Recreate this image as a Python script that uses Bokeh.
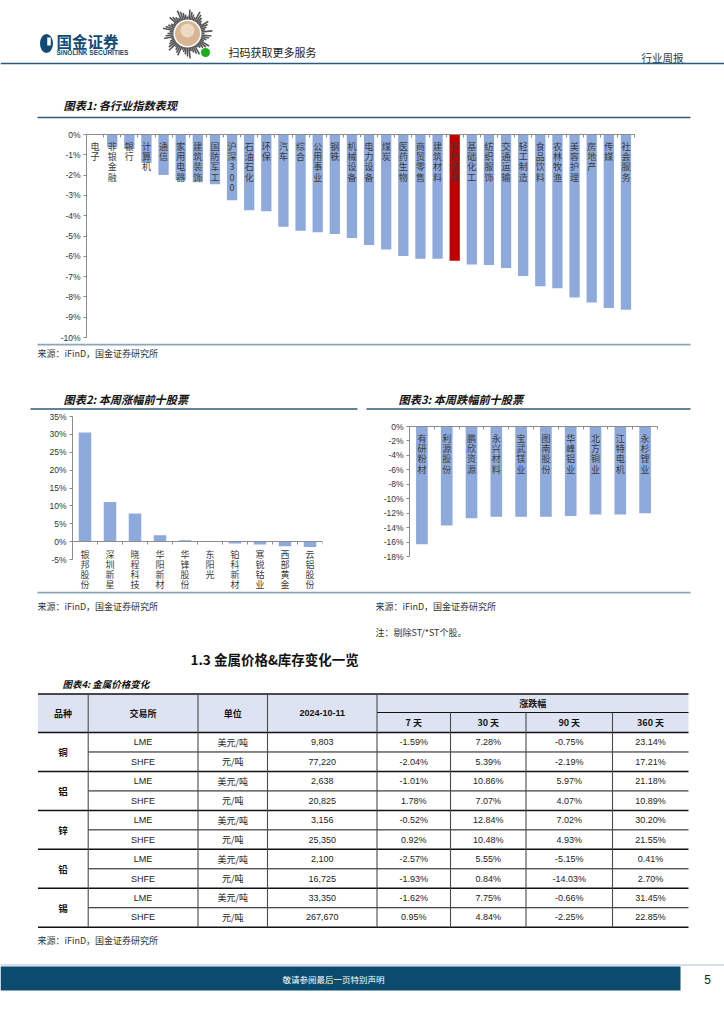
import numpy as np
from bokeh.plotting import figure
from bokeh.models import Range1d, FixedTicker, ColumnDataSource, CustomJSTickFormatter
from bokeh.layouts import column, row
from bokeh.embed import file_html
from bokeh.resources import INLINE
from bokeh.core.properties import value

CJK = "Noto Sans CJK SC"
LAT = "Liberation Sans"

# ---------------- data ----------------
industries = ["电子", "非银金融", "银行", "计算机", "通信", "家用电器", "建筑装饰", "国防军工",
              "沪深300", "石油石化", "环保", "汽车", "综合", "公用事业", "钢铁", "机械设备",
              "电力设备", "煤炭", "医药生物", "商贸零售", "建筑材料", "有色金属", "基础化工",
              "纺织服饰", "交通运输", "轻工制造", "食品饮料", "农林牧渔", "美容护理", "房地产",
              "传媒", "社会服务"]
industry_chg = [-0.03, -0.63, -0.71, -1.40, -1.99, -2.25, -2.35, -2.45,
                -3.24, -3.73, -3.78, -4.54, -4.74, -4.82, -4.90, -5.10,
                -5.44, -5.66, -5.99, -6.12, -6.12, -6.22, -6.40,
                -6.43, -6.58, -6.97, -7.48, -7.57, -8.03, -8.27,
                -8.55, -8.63]
highlight = "有色金属"

gainers = ["银邦股份", "深圳新星", "晓程科技", "华阳新材", "华锋股份", "东阳光",
           "铂科新材", "寒锐钴业", "西部黄金", "云铝股份"]
gainer_chg = [30.5, 11.1, 7.9, 1.8, 0.4, 0.0, -0.5, -0.8, -1.3, -1.5]

losers = ["有研粉材", "利源股份", "鹏欣资源", "永兴材料", "宝武镁业", "图南股份",
          "华峰铝业", "北方铜业", "江特电机", "永杉锂业"]
loser_chg = [-16.3, -13.7, -12.7, -12.5, -12.5, -12.5, -12.4, -12.2, -12.2, -12.0]

metals = ["铜", "铝", "锌", "铅", "锡"]
exchanges = ["LME", "SHFE"] * 5
units = ["美元/吨", "元/吨"] * 5
prices = [9803, 77220, 2638, 20825, 3156, 25350, 2100, 16725, 33350, 267670]
chg_7d = [-1.59, -2.04, -1.01, 1.78, -0.52, 0.92, -2.57, -1.93, -1.62, 0.95]
chg_30d = [7.28, 5.39, 10.86, 7.07, 12.84, 10.48, 5.55, 0.84, 7.75, 4.84]
chg_90d = [-0.75, -2.19, 5.97, 4.07, 7.02, 4.93, -5.15, -14.03, -0.66, -2.25]
chg_360d = [23.14, 17.21, 21.18, 10.89, 30.20, 21.55, 0.41, 2.70, 31.45, 22.85]
table_date = "2024-10-11"
period_labels = ["7 天", "30 天", "90 天", "360 天"]

BAR = "#8EA9DB"
RED = "#C00000"
AXIS = "#8c8c8c"
NAVY = "#0f4c75"
LINE_BLUE = "#2c5a7a"
SEP = "#8aa7bd"
W = 724
TITLE = 11.2
SRC = 9


def base_fig(**kw):
    p = figure(toolbar_location=None, output_backend="svg", **kw)
    p.frame_align = False
    p.title.visible = False
    p.outline_line_color = None
    return p


def decor(y0, y1, x0=0, x1=W):
    p = base_fig(width=x1 - x0, height=y1 - y0, x_range=Range1d(x0, x1),
                 y_range=Range1d(y1, y0), x_axis_type=None, y_axis_type=None, min_border=0)
    return p


def txt(p, x, y, s, size, color="#222222", font=CJK, align="left", style="normal"):
    p.text(x=[x], y=[y], text=[s], text_font=value(font), text_font_size=f"{size}px",
           text_color=color, text_align=align, text_baseline="middle", text_font_style=style)


def style_chart(p, yticks, nx):
    p.xgrid.visible = False
    p.ygrid.visible = False
    ya = p.yaxis[0]
    ya.ticker = FixedTicker(ticks=yticks)
    ya.formatter = CustomJSTickFormatter(code="return tick.toFixed(0) + '%';")
    ya.major_label_text_font = LAT
    ya.major_label_text_font_size = "8.5px"
    ya.major_label_text_color = "#333333"
    ya.major_label_standoff = 3
    ya.axis_line_color = AXIS
    ya.major_tick_line_color = AXIS
    ya.major_tick_out = 3
    ya.major_tick_in = 0
    ya.minor_tick_line_color = None
    xa = p.xaxis[0]
    xa.ticker = FixedTicker(ticks=[i - 0.5 for i in range(nx + 1)])
    xa.major_label_text_font_size = "1px"
    xa.major_label_text_color = None
    xa.major_label_standoff = 0
    xa.axis_line_color = AXIS
    xa.major_tick_line_color = AXIS
    xa.major_tick_in = 3
    xa.major_tick_out = 0
    xa.minor_tick_line_color = None


def vlabels(p, src, offset, lh):
    p.text(x="x", y="y0", text="label", source=src, text_align="center", text_baseline="top",
           y_offset=offset, text_font=value(CJK), text_font_size="9px", text_color="#3a3a3a",
           text_line_height=lh)


# ---------------- header ----------------
pA = decor(0, 125)
pA.ellipse(x=[46], y=[43], width=[13], height=[19], fill_color=NAVY, line_color=None)
pA.rect(x=[48.5], y=[41], width=[3.5], height=[8], fill_color="white", line_color=None)
txt(pA, 56, 40, "国金证券", 15.5, NAVY, style="bold")
txt(pA, 56, 52, "SINOLINK SECURITIES", 6.5, NAVY, font=LAT, style="bold")
ang = np.deg2rad(np.arange(0, 360, 6))
rlen = 17 + (np.arange(len(ang)) * 7 % 9)
cx, cy = 187, 33
pA.segment(x0=cx + 14 * np.cos(ang), y0=cy + 14 * np.sin(ang),
           x1=cx + rlen * np.cos(ang), y1=cy + rlen * np.sin(ang),
           line_color="#555555", line_width=1.6)
pA.circle(x=[cx], y=[cy], radius=[12.5], fill_color="#d8b491", line_color=None)
pA.circle(x=[cx], y=[cy - 3], radius=[7], fill_color="#ecd9c4", line_color=None)
pA.circle(x=[205], y=[52], radius=[4.5], fill_color="#1aad19", line_color=None)
txt(pA, 228, 51, "扫码获取更多服务", 11, "#222222")
txt(pA, 641, 57, "行业周报", 10.5, "#333333")
pA.segment(x0=[0], y0=[63], x1=[W], y1=[63], line_color=LINE_BLUE, line_width=1.5)
txt(pA, 63, 104, "图表1:  各行业指数表现", TITLE, "#111111", style="bold italic")
pA.segment(x0=[37], y0=[117], x1=[690], y1=[117], line_color=LINE_BLUE, line_width=1.5)

# ---------------- chart 1 ----------------
n1 = len(industries)
src1 = ColumnDataSource(dict(
    x=list(range(n1)), top=industry_chg,
    color=[RED if s == highlight else BAR for s in industries],
    label=["\n".join(list(s)) for s in industries], y0=[0] * n1))
p1 = base_fig(width=W, height=218, x_range=Range1d(-0.5, n1 - 0.5), y_range=Range1d(-10, 0),
              x_axis_location="above",
              min_border_left=86, min_border_right=90, min_border_top=9, min_border_bottom=6)
p1.vbar(x="x", top="top", bottom=0, width=0.6, fill_color="color", line_color=None, source=src1)
vlabels(p1, src1, 5, 0.8)
style_chart(p1, list(range(-10, 1)), n1)

# ---------------- middle decor ----------------
pC = decor(343, 410)
pC.segment(x0=[37], y0=[344], x1=[690], y1=[344], line_color=SEP, line_width=2)
txt(pC, 37, 353, "来源：iFinD，国金证券研究所", SRC, "#333333")
txt(pC, 63, 398, "图表2:  本周涨幅前十股票", TITLE, "#111111", style="bold italic")
txt(pC, 398, 398, "图表3:  本周跌幅前十股票", TITLE, "#111111", style="bold italic")
pC.segment(x0=[30, 366], y0=[408.5, 408.5], x1=[357, 690], y1=[408.5, 408.5],
           line_color=LINE_BLUE, line_width=1.5)

# ---------------- chart 2 ----------------
n2 = len(gainers)
src2 = ColumnDataSource(dict(x=list(range(n2)), top=gainer_chg,
                             label=["\n".join(list(s)) for s in gainers], y0=[0] * n2))
p2 = base_fig(width=365, height=181, x_range=Range1d(-0.5, n2 - 0.5),
              y_range=Range1d(-13.95, 35), x_axis_location="above",
              min_border_left=72, min_border_right=43, min_border_top=6, min_border_bottom=0)
p2.vbar(x="x", top="top", bottom=0, width=0.5, fill_color=BAR, line_color=None, source=src2)
vlabels(p2, src2, 6, 0.78)
style_chart(p2, list(range(-5, 36, 5)), n2)
p2.yaxis[0].bounds = (-5, 35)
p2.xaxis[0].fixed_location = 0

# ---------------- chart 3 ----------------
n3 = len(losers)
src3 = ColumnDataSource(dict(x=list(range(n3)), top=loser_chg,
                             label=["\n".join(list(s)) for s in losers], y0=[0] * n3))
p3 = base_fig(width=W - 365, height=181, x_range=Range1d(-0.5, n3 - 0.5),
              y_range=Range1d(-18, 0), x_axis_location="above",
              min_border_left=44, min_border_right=67, min_border_top=16, min_border_bottom=35)
p3.vbar(x="x", top="top", bottom=0, width=0.47, fill_color=BAR, line_color=None, source=src3)
vlabels(p3, src3, 5, 0.8)
style_chart(p3, list(range(-18, 1, 2)), n3)

# ---------------- lower decor + table ----------------
pE = decor(591, 1020)
pE.segment(x0=[37], y0=[592], x1=[690], y1=[592], line_color=SEP, line_width=2)
txt(pE, 37, 606, "来源：iFinD，国金证券研究所", SRC, "#333333")
txt(pE, 375, 606, "来源：iFinD，国金证券研究所", SRC, "#333333")
txt(pE, 375, 632, "注：剔除ST/*ST个股。", SRC, "#333333")
txt(pE, 190, 658, "1.3 金属价格&库存变化一览", 13.5, "#111111", style="bold")
txt(pE, 62, 683, "图表4:  金属价格变化", 9.5, "#111111", style="bold italic")

col_x = [37.5, 87.7, 197.5, 267.0, 376.5, 450.0, 525.5, 612.0, 688.0]
t_top, t_sub, t_hdr, row_h = 693.5, 712.0, 732.0, 19.47
n_rows = len(exchanges)
t_bot = t_hdr + n_rows * row_h
pE.quad(left=[col_x[0]], right=[col_x[-1]], top=[t_top], bottom=[t_hdr],
        fill_color="#dde3f3", line_color=None)

hx0, hy, hx1, hw = [], [], [], []
for (a, y, b, w) in [(col_x[0], t_top, col_x[-1], 1.5), (col_x[4], t_sub, col_x[-1], 1.0),
                     (col_x[0], t_hdr, col_x[-1], 1.5)]:
    hx0.append(a); hy.append(y); hx1.append(b); hw.append(w)
for r in range(1, n_rows + 1):
    y = t_hdr + r * row_h
    if r % 2 == 0:
        hx0.append(col_x[0]); hw.append(1.5)
    else:
        hx0.append(col_x[1]); hw.append(1.0)
    hy.append(y); hx1.append(col_x[-1])
pE.segment(x0=hx0, y0=hy, x1=hx1, y1=hy, line_width=hw, line_color="#111111")
vx = col_x[1:8]
vy0 = [t_top if k <= 4 else t_sub for k in range(1, 8)]
pE.segment(x0=vx, y0=vy0, x1=vx, y1=[t_bot] * len(vx), line_color="#4a4a4a", line_width=1.1)

cc = [(col_x[k] + col_x[k + 1]) / 2 for k in range(8)]
hdr_mid = (t_top + t_hdr) / 2
for k, s in enumerate(["品种", "交易所", "单位"]):
    txt(pE, cc[k], hdr_mid, s, 9, "#111111", align="center", style="bold")
txt(pE, cc[3], hdr_mid, table_date, 9, "#111111", font=LAT, align="center", style="bold")
txt(pE, (col_x[4] + col_x[-1]) / 2, (t_top + t_sub) / 2, "涨跌幅", 9, "#111111",
    align="center", style="bold")
for k, s in enumerate(period_labels):
    txt(pE, cc[4 + k], (t_sub + t_hdr) / 2, s, 9, "#111111", align="center", style="bold")

row_y = [t_hdr + (r + 0.5) * row_h for r in range(n_rows)]
lat_x, lat_y, lat_t = [], [], []
for r in range(n_rows):
    vals = [exchanges[r], f"{prices[r]:,}", f"{chg_7d[r]:.2f}%", f"{chg_30d[r]:.2f}%",
            f"{chg_90d[r]:.2f}%", f"{chg_360d[r]:.2f}%"]
    for c, s in zip([1, 3, 4, 5, 6, 7], vals):
        lat_x.append(cc[c]); lat_y.append(row_y[r]); lat_t.append(s)
pE.text(x=lat_x, y=lat_y, text=lat_t, text_font=value(LAT), text_font_size="9px",
        text_color="#222222", text_align="center", text_baseline="middle")
pE.text(x=[cc[2]] * n_rows, y=row_y, text=units, text_font=value(CJK), text_font_size="9px",
        text_color="#222222", text_align="center", text_baseline="middle")
pE.text(x=[cc[0]] * len(metals), y=[t_hdr + (2 * g + 1) * row_h for g in range(len(metals))],
        text=metals, text_font=value(CJK), text_font_size="9.5px", text_color="#111111",
        text_align="center", text_baseline="middle", text_font_style="bold")

txt(pE, 37, 940, "来源：iFinD，国金证券研究所", SRC, "#333333")
pE.segment(x0=[0], y0=[964.5], x1=[W], y1=[964.5], line_color="#a9c0d3", line_width=1)
pE.quad(left=[0], right=[680], top=[966], bottom=[990], fill_color="#0b4b6e", line_color=None)
txt(pE, 333, 978, "敬请参阅最后一页特别声明", 8.5, "white", align="center")
txt(pE, 707, 979, "5", 12, "#222222", font=LAT, align="center")

layout = column(pA, p1, pC, row(p2, p3, spacing=0), pE, spacing=0)
open("out.html", "w").write(file_html(layout, INLINE))
